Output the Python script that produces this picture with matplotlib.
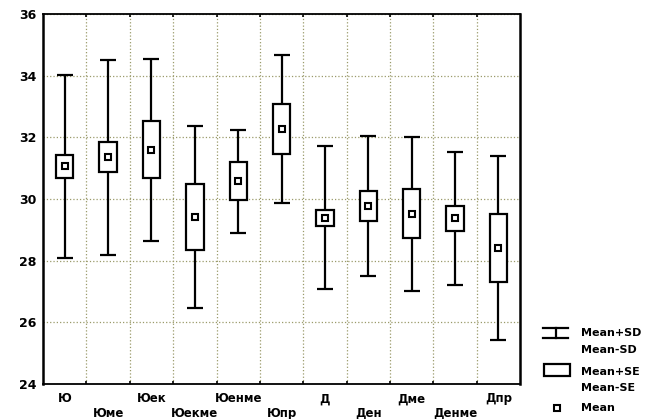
import numpy as np
import matplotlib.pyplot as plt
from matplotlib.patches import Rectangle

# ---- данные ----
groups = ['Ю', 'Юме', 'Юек', 'Юекме', 'Юенме', 'Юпр',
          'Д', 'Ден', 'Дме', 'Денме', 'Дпр']
mean = [31.06, 31.36, 31.60, 29.41, 30.58, 32.27,
        29.39, 29.77, 29.52, 29.38, 28.41]
sd = [2.97, 3.16, 2.95, 2.96, 1.67, 2.39,
      2.32, 2.26, 2.50, 2.16, 2.97]
se = [0.375, 0.49, 0.93, 1.07, 0.61, 0.81,
      0.26, 0.48, 0.80, 0.405, 1.10]

mean = np.array(mean)
sd = np.array(sd)
se = np.array(se)
x = np.arange(len(groups))

fig = plt.figure(figsize=(6.47, 4.19), dpi=100)
ax = fig.add_axes([0.0665, 0.0835, 0.7375, 0.8831])

# ---- усы: Mean +/- SD ----
ax.errorbar(x, mean, yerr=sd, fmt='none', ecolor='black',
            elinewidth=1.6, capsize=5.5, capthick=1.6, zorder=2)

# ---- коробки: Mean +/- SE ----
ax.bar(x, 2 * se, bottom=mean - se, width=0.4, color='white',
       edgecolor='black', linewidth=1.6, zorder=3)

# ---- среднее ----
ax.plot(x, mean, 's', markersize=5, markerfacecolor='white',
        markeredgecolor='black', markeredgewidth=1.5, zorder=4)

# ---- оси ----
ax.set_xlim(-0.5, len(groups) - 0.5)
ax.set_ylim(24, 36)
ax.set_yticks(np.arange(24, 37, 2))
ax.set_xticks(x)
ax.set_xticklabels(groups, fontsize=8.5, fontweight='bold')
for lab in ax.get_yticklabels():
    lab.set_fontweight('bold')
    lab.set_fontsize(9)
ax.tick_params(axis='x', length=0, pad=6)
ax.tick_params(axis='y', length=0, pad=5)
for i, t in enumerate(ax.xaxis.get_major_ticks()):
    if i % 2 == 1:
        t.set_pad(16.5)

ax.set_xticks(x[:-1] + 0.5, minor=True)
ax.tick_params(axis='x', which='minor', direction='in', length=2,
               width=1.2, top=True)
ax.grid(axis='x', which='minor', linestyle=':', color='#9a9a6a', linewidth=0.9)
ax.grid(axis='y', which='major', linestyle=':', color='#9a9a6a', linewidth=0.9)
ax.set_axisbelow(True)

for s in ['left', 'right']:
    ax.spines[s].set_linewidth(1.8)
for s in ['top', 'bottom']:
    ax.spines[s].set_linewidth(1.3)

# ---- легенда (рисуется вручную, в пикселях рисунка) ----
lax = fig.add_axes([0, 0, 1, 1])
lax.set_xlim(0, 647)
lax.set_ylim(419, 0)
lax.axis('off')
lax.patch.set_alpha(0)

# Mean±SD: "I"
lax.plot([543, 568], [328, 328], color='black', lw=1.6)
lax.plot([543, 568], [338, 338], color='black', lw=1.6)
lax.plot([555.5, 555.5], [328, 338], color='black', lw=1.6)
# Mean±SE: прямоугольник
lax.add_patch(Rectangle((544, 364), 26, 12, facecolor='white',
                        edgecolor='black', lw=1.6))
# Mean
lax.plot([557], [408], 's', markersize=5, markerfacecolor='white',
         markeredgecolor='black', markeredgewidth=1.5)

leg_txt = ['Mean+SD', 'Mean-SD', 'Mean+SE', 'Mean-SE', 'Mean']
leg_y = [333, 350, 372, 388, 408]
for t, yy in zip(leg_txt, leg_y):
    lax.text(581, yy, t, fontsize=8, fontweight='bold', va='center', ha='left')

fig.savefig('out.png', dpi=100)
